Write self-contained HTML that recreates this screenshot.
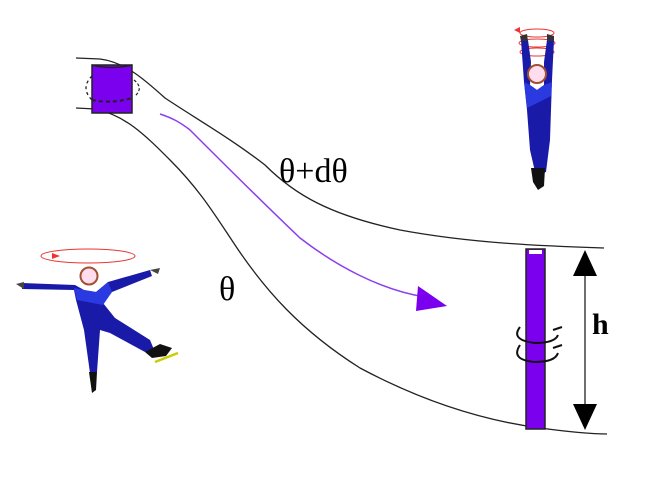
<!DOCTYPE html>
<html><head><meta charset="utf-8"><style>
html,body{margin:0;padding:0;background:#fff;width:649px;height:482px;overflow:hidden}
svg{display:block}
</style></head><body>
<svg width="649" height="482" viewBox="0 0 649 482" xmlns="http://www.w3.org/2000/svg">
<g fill="none" stroke="#222" stroke-width="1.3">
<path d="M76,58 L100,59 C125,62 145,80 165,98 C195,118 230,138 265,165 C295,195 330,215 400,230 C470,243 540,246 604,248"/>
<path d="M76,108 L95,109 C125,115 145,135 170,160 C200,190 215,215 235,245 C265,290 300,330 360,368 C420,400 480,420 540,428 C570,432 590,434 607,434"/>
</g>
<!-- small cylinder -->
<rect x="92" y="65" width="40" height="48" fill="#7a00ee" stroke="#222" stroke-width="1.5"/>
<path d="M92,65 Q112,70 132,65" fill="none" stroke="#222" stroke-width="1.5"/>
<path d="M92,100 Q112,104 132,98" fill="none" stroke="#222" stroke-width="2" stroke-dasharray="4,3"/>
<path d="M92,76 Q80,88 92,100" fill="none" stroke="#222" stroke-width="1.3" stroke-dasharray="3,3"/>
<path d="M134,80 Q144,88 135,96" fill="none" stroke="#222" stroke-width="1.2" stroke-dasharray="3,2"/>
<!-- purple arrow -->
<path d="M160,114 C172,118 180,122 190,130 C215,155 260,200 300,238 C335,265 380,290 425,297" fill="none" stroke="#8a3ef0" stroke-width="1.5"/>
<polygon points="418,286 447,306 416,311" fill="#7a00ee"/>
<!-- rod -->
<rect x="526" y="249" width="19" height="180" fill="#7a00ee" stroke="#222" stroke-width="1.5"/>
<rect x="529" y="250" width="13" height="4" fill="#fff"/>
<g fill="none" stroke="#111" stroke-width="2">
<path d="M520,327 Q510,340 535,343 Q555,343 558,335"/>
<path d="M520,345 Q510,360 535,362 Q555,362 558,353"/>
<path d="M553,330 L562,327 M553,348 L562,345"/>
</g>
<!-- h arrow -->
<line x1="585" y1="262" x2="585" y2="420" stroke="#222" stroke-width="1.3"/>
<polygon points="573,276 585,250 597,276" fill="#000"/>
<polygon points="573,404 585,430 597,404" fill="#000"/>
<text x="592" y="334" font-family="Liberation Serif,serif" font-weight="bold" font-size="30">h</text>
<text x="279" y="182" font-family="Liberation Serif,serif" font-size="34">θ+dθ</text>
<text x="219" y="300" font-family="Liberation Serif,serif" font-size="34">θ</text>
<!-- left skater -->
<ellipse cx="88" cy="256" rx="47" ry="7" fill="none" stroke="#e33" stroke-width="1"/>
<polygon points="52,259 60,256 52,253" fill="#e33"/>
<path d="M22,283 L75,285 L84,290 L96,292 L108,282 L150,270 L152,276 L112,292 L103,303 L115,318 L150,340 L155,352 L145,352 L110,333 L100,330 L97,372 L90,373 L84,330 L76,300 L74,290 L22,289 Z" fill="#1a1aa8"/>
<path d="M74,288 L84,290 L96,292 L108,282 L112,292 L103,305 L77,300 Z" fill="#2a3ae0"/>
<circle cx="89" cy="276" r="8.5" fill="#fde" stroke="#a05030" stroke-width="2"/>
<path d="M145,352 L160,344 L172,348 L166,356 L152,358 Z" fill="#111"/>
<line x1="155" y1="362" x2="178" y2="353" stroke="#cc0" stroke-width="2.5"/>
<path d="M89,372 L97,372 L96,390 L92,393 Z" fill="#111"/>
<path d="M16,284 L24,282 L24,289 Z" fill="#444"/>
<path d="M150,270 L160,268 L158,274 Z" fill="#444"/>
<!-- top skater -->
<g fill="none" stroke="#e33" stroke-width="1">
<ellipse cx="537" cy="33" rx="17" ry="4"/><ellipse cx="537" cy="43" rx="18" ry="4"/><ellipse cx="537" cy="52" rx="17" ry="4"/>
</g>
<polygon points="514,30 520,27 520,33" fill="#e33"/>
<path d="M521,40 L528,40 L531,62 L530,85 L537,90 L544,85 L544,62 L547,40 L554,40 L552,80 L551,110 L550,140 L546,172 L536,176 L530,150 L527,110 L524,82 Z" fill="#1a1aa8"/>
<path d="M524,82 L530,85 L537,90 L544,85 L552,82 L551,96 L527,108 Z" fill="#2a3ae0"/>
<circle cx="537" cy="74" r="9" fill="#fde" stroke="#a05030" stroke-width="2"/>
<path d="M531,168 L545,168 L544,186 L538,190 L533,182 Z" fill="#111"/>
<path d="M520,36 L527,34 L528,41 L521,41 Z M547,34 L554,36 L554,41 L547,41 Z" fill="#333"/>
</svg>
</body></html>
